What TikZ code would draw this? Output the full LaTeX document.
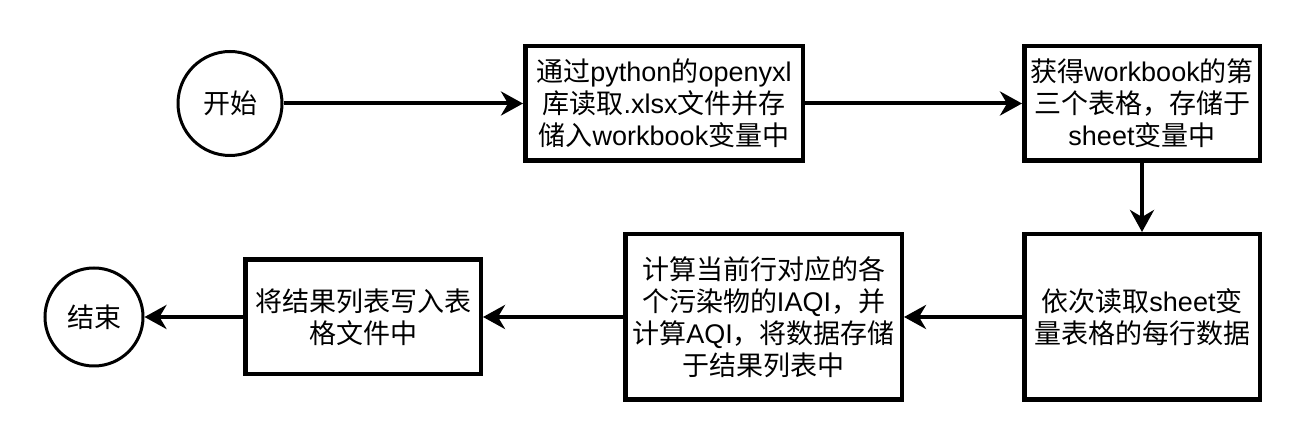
\documentclass[tikz,border=0pt]{standalone}
\usepackage{fontspec}
\setmainfont{Liberation Sans}
\newfontfamily\cjkfont{Noto Sans CJK SC}
\newcommand{\zh}[1]{{\cjkfont #1}}
\usetikzlibrary{arrows.meta}
\begin{document}
\begin{tikzpicture}[x=1pt,y=1pt,
  box/.style={draw,line width=4.5pt,align=center,inner sep=0pt,font=\fontsize{27}{32}\selectfont},
  term/.style={draw,circle,line width=3pt,inner sep=0pt,minimum size=104pt,font=\fontsize{27}{32}\selectfont},
  arr/.style={line width=4pt,-{Stealth[length=22pt,width=24pt,inset=7pt]}}]
\useasboundingbox (0,0) rectangle (1304,444);
\node[term] (start) at (230,340.5) {\zh{开始}};
\node[box,minimum width=277.5pt,minimum height=114.5pt] (b1) at (664,340.5)
  {\zh{通过}python\zh{的}openyxl\\\zh{库读取}.xlsx\zh{文件并存}\\\zh{储入}workbook\zh{变量中}};
\node[box,minimum width=235.5pt,minimum height=114.5pt] (b2) at (1142,340.5)
  {\zh{获得}workbook\zh{的第}\\\zh{三个表格，存储于}\\sheet\zh{变量中}};
\node[box,minimum width=235.5pt,minimum height=165.5pt] (b3) at (1142,127)
  {\zh{依次读取}sheet\zh{变}\\\zh{量表格的每行数据}};
\node[box,minimum width=276.5pt,minimum height=165.5pt] (b4) at (763.5,127)
  {\zh{计算当前行对应的各}\\\zh{个污染物的}IAQI\zh{，并}\\\zh{计算}AQI\zh{，将数据存储}\\\zh{于结果列表中}};
\node[box,minimum width=235.5pt,minimum height=114.5pt] (b5) at (363,127)
  {\zh{将结果列表写入表}\\\zh{格文件中}};
\node[term,minimum size=98pt] (stop) at (94,127) {\zh{结束}};
\draw[arr] (start) -- (b1);
\draw[arr] (b1) -- (b2);
\draw[arr] (b2) -- (b3);
\draw[arr] (b3) -- (b4);
\draw[arr] (b4) -- (b5);
\draw[arr] (b5) -- (stop);
\end{tikzpicture}
\end{document}
